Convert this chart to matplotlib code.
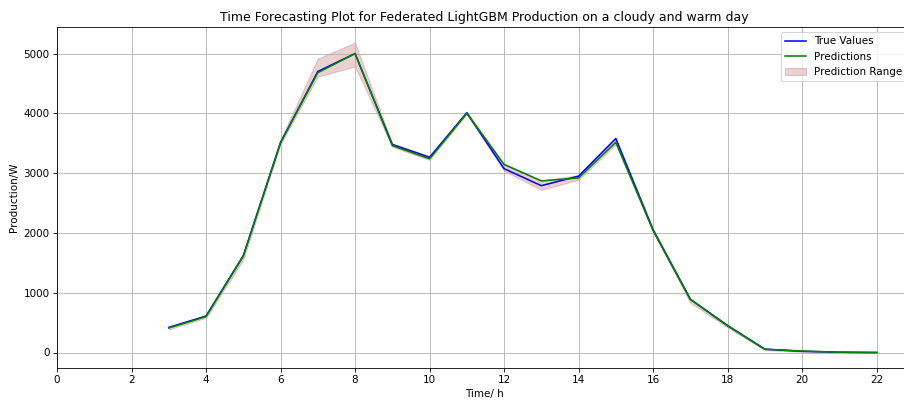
import matplotlib
matplotlib.use('Agg')
from matplotlib import pyplot as plt

# hours and production values
hours = [3, 4, 5, 6, 7, 8, 9, 10, 11, 12, 13, 14, 15, 16, 17, 18, 19, 20, 21, 22]
true_vals = [420, 610, 1620, 3510, 4700, 5000, 3480, 3265, 4010, 3075, 2790, 2950, 3580, 2050, 890, 450, 55, 20, 5, 0]
pred_vals = [410, 600, 1610, 3510, 4680, 5000, 3460, 3240, 4000, 3145, 2870, 2920, 3515, 2040, 890, 445, 55, 25, 5, 0]
pred_low = [385, 580, 1550, 3480, 4615, 4785, 3440, 3220, 3985, 3040, 2720, 2890, 3480, 2020, 830, 420, 40, 10, 0, 0]
pred_high = [430, 615, 1640, 3560, 4915, 5185, 3495, 3285, 4035, 3160, 2880, 2965, 3565, 2085, 905, 465, 65, 25, 8, 0]

fig = plt.figure(figsize=(904 / 75, 403 / 75), dpi=75)
ax = fig.add_axes([57 / 904, 35 / 403, 855 / 904, 341 / 403])

ax.fill_between(hours, pred_low, pred_high, color='brown', alpha=0.22, label='Prediction Range')
ax.plot(hours, true_vals, color='blue', label='True Values')
ax.plot(hours, pred_vals, color='green', label='Predictions')

ax.set_title("Time Forecasting Plot for Federated LightGBM Production on a cloudy and warm day")
ax.set_xlabel("Time/ h")
ax.set_ylabel("Production/W")
ax.set_xlim(0, 22.95)
ax.set_xticks(range(0, 23, 2))
ax.grid(True)

handles, labels = ax.get_legend_handles_labels()
order = [1, 2, 0]
ax.legend([handles[i] for i in order], [labels[i] for i in order], loc='upper right')

fig.savefig('out.png', dpi=75)
